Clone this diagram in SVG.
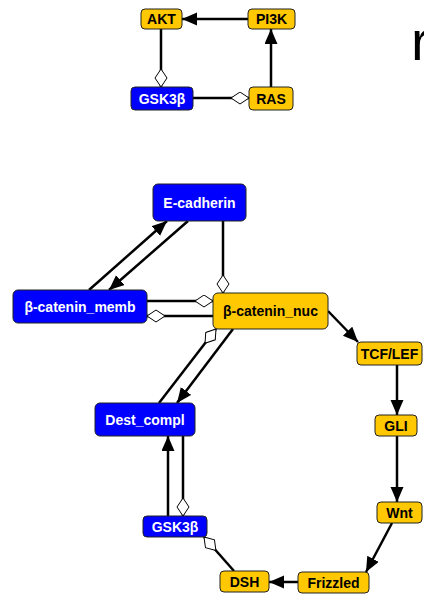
<svg xmlns="http://www.w3.org/2000/svg" width="424" height="594" viewBox="0 0 424 594">
  <style>
    .node rect { stroke: #222; stroke-width: 1; }
    .yellow rect { fill: #FFC800; }
    .blue rect { fill: #0000FF; }
    .node text { font-family: "Liberation Sans", Arial, sans-serif; font-weight: bold; font-size: 14px; text-anchor: middle; dominant-baseline: central; }
    .yellow text { fill: #000; }
    .blue text { fill: #fff; }
    .edge { stroke: #000; stroke-width: 2.5; fill: none; }
    .act { marker-end: url(#arrow); }
    .inh { marker-end: url(#diamond); }
  </style>
  <defs>
    <marker id="arrow" markerUnits="userSpaceOnUse" markerWidth="16" markerHeight="14" refX="15" refY="6.5" orient="auto">
      <path d="M0,0 L15,6.5 L0,13 z" fill="#000"/>
    </marker>
    <marker id="diamond" markerUnits="userSpaceOnUse" markerWidth="20" markerHeight="14" refX="18.5" refY="6.5" orient="auto">
      <path d="M0.5,6.5 L9.5,0.5 L18.5,6.5 L9.5,12.5 z" fill="#fff" stroke="#000" stroke-width="1"/>
    </marker>
  </defs>

  <!-- connectors -->
  <g id="edges">
    <line class="edge act" x1="248" y1="19" x2="182" y2="19"/>
    <line class="edge act" x1="271" y1="87" x2="271" y2="29"/>
    <line class="edge inh" x1="161" y1="29" x2="161" y2="87"/>
    <line class="edge inh" x1="193" y1="98" x2="249" y2="98"/>

    <line class="edge act" x1="89" y1="290" x2="167" y2="221"/>
    <line class="edge act" x1="188" y1="221" x2="109" y2="290"/>
    <line class="edge inh" x1="223" y1="221" x2="223" y2="293"/>
    <line class="edge inh" x1="147" y1="301" x2="213" y2="301"/>
    <line class="edge inh" x1="213" y1="316" x2="147" y2="316"/>
    <line class="edge inh" x1="159" y1="403" x2="216" y2="329"/>
    <line class="edge act" x1="233" y1="329" x2="177" y2="403"/>
    <line class="edge act" x1="328" y1="311" x2="358" y2="342"/>
    <line class="edge act" x1="397" y1="365" x2="397" y2="415"/>
    <line class="edge act" x1="397" y1="436" x2="397" y2="502"/>
    <line class="edge act" x1="392" y1="523" x2="366" y2="572"/>
    <line class="edge act" x1="298" y1="582" x2="269" y2="582"/>
    <line class="edge inh" x1="234" y1="571" x2="204" y2="537"/>
    <line class="edge act" x1="168" y1="516" x2="168" y2="436"/>
    <line class="edge inh" x1="183" y1="436" x2="183" y2="516"/>
  </g>

  <!-- nodes -->
  <g id="AKT" class="node yellow"><rect x="141" y="9" width="41" height="20" rx="4"/><text x="161.5" y="19">AKT</text></g>
  <g id="PI3K" class="node yellow"><rect x="248" y="9" width="47" height="20" rx="4"/><text x="271.5" y="19">PI3K</text></g>
  <g id="GSK3b_top" class="node blue"><rect x="131" y="87" width="62" height="23" rx="4"/><text x="162" y="98.5">GSK3β</text></g>
  <g id="RAS" class="node yellow"><rect x="249" y="87" width="44" height="23" rx="4"/><text x="271" y="98.5">RAS</text></g>

  <g id="E-cadherin" class="node blue"><rect x="153" y="184" width="93" height="37" rx="5"/><text x="199.5" y="202.5">E-cadherin</text></g>
  <g id="b-catenin_memb" class="node blue"><rect x="13" y="290" width="134" height="33" rx="5"/><text x="80" y="306.5">β-catenin_memb</text></g>
  <g id="b-catenin_nuc" class="node yellow"><rect x="213" y="293" width="115" height="36" rx="5"/><text x="270.5" y="311">β-catenin_nuc</text></g>
  <g id="TCF_LEF" class="node yellow"><rect x="357" y="342" width="65" height="23" rx="4"/><text x="389.5" y="353.5">TCF/LEF</text></g>
  <g id="GLI" class="node yellow"><rect x="375" y="415" width="42" height="21" rx="4"/><text x="396" y="425.5">GLI</text></g>
  <g id="Wnt" class="node yellow"><rect x="377" y="502" width="45" height="21" rx="4"/><text x="399.5" y="512.5">Wnt</text></g>
  <g id="Dest_compl" class="node blue"><rect x="95" y="403" width="100" height="33" rx="5"/><text x="145" y="419.5">Dest_compl</text></g>
  <g id="GSK3b_bot" class="node blue"><rect x="143" y="516" width="64" height="21" rx="4"/><text x="175" y="526.5">GSK3β</text></g>
  <g id="DSH" class="node yellow"><rect x="220" y="571" width="49" height="21" rx="4"/><text x="244.5" y="581.5">DSH</text></g>
  <g id="Frizzled" class="node yellow"><rect x="298" y="572" width="71" height="21" rx="4"/><text x="333.5" y="582.5">Frizzled</text></g>

  <!-- heading, running off the right edge -->
  <text x="411" y="60" font-family="Liberation Sans, Arial, sans-serif" font-size="56">r</text>
</svg>
